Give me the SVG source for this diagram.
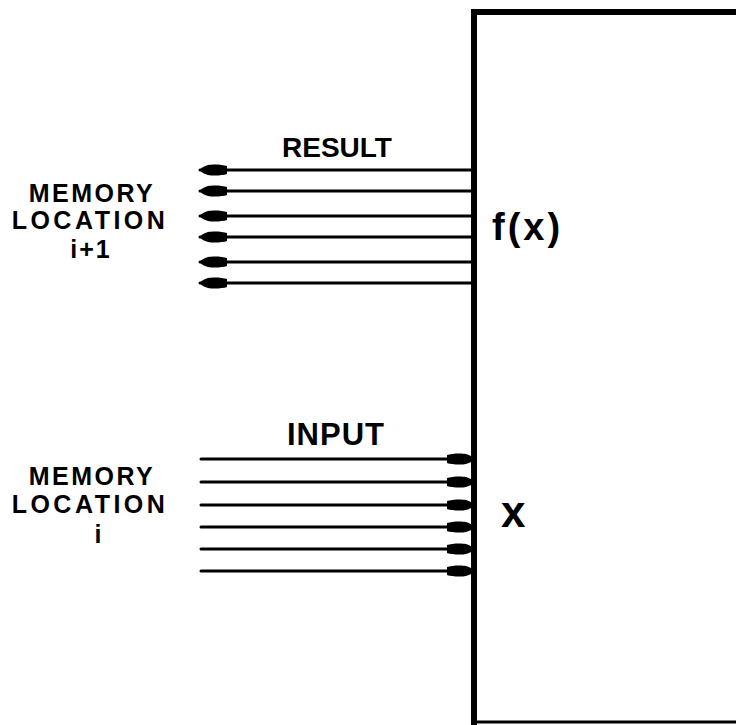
<svg xmlns="http://www.w3.org/2000/svg" width="736" height="725" viewBox="0 0 736 725">
<style>
.t{font-family:"Liberation Sans",Arial,sans-serif;font-weight:bold;fill:#000}
.w{stroke:#000;stroke-width:3;fill:none;stroke-linecap:round}
.m{font-size:25px;text-anchor:middle}
</style>
<defs>
<marker id="ah" viewBox="0 0 27 12" refX="27" refY="6" markerWidth="27" markerHeight="12" markerUnits="userSpaceOnUse" orient="auto-start-reverse">
<path d="M0,2 C4,0.5 14,0 19,1 C23,2 26,4 27,6 C26,8 23,10 19,11 C14,12 4,11.5 0,10 Z" fill="#000"/>
</marker>
</defs>
<rect width="736" height="725" fill="#fff"/>
<g id="box">
<path d="M474,725 V12 H736" stroke="#000" stroke-width="6" fill="none"/>
<line x1="474" y1="722" x2="736" y2="722" stroke="#000" stroke-width="3"/>
<text class="t" x="492" y="240" font-size="38" letter-spacing="3">f(x)</text>
<text class="t" x="501" y="527" font-size="44">x</text>
</g>
<g id="result-label">
<text class="t" x="337" y="157" font-size="28" text-anchor="middle">RESULT</text>
</g>
<g id="input-label">
<text class="t" x="336" y="445" font-size="31" text-anchor="middle" letter-spacing="1">INPUT</text>
</g>
<g id="mem-i1">
<text class="t m"><tspan x="92" y="202" letter-spacing="2.5">MEMORY</tspan><tspan x="90" y="229" letter-spacing="3.5">LOCATION</tspan><tspan x="91" y="258" letter-spacing="2">i+1</tspan></text>
</g>
<g id="mem-i">
<text class="t m"><tspan x="92" y="485" letter-spacing="2.5">MEMORY</tspan><tspan x="90" y="513" letter-spacing="3.5">LOCATION</tspan><tspan x="98" y="543">i</tspan></text>
</g>
<g id="connectors">
<line class="w" x1="474" y1="170" x2="200" y2="170" marker-end="url(#ah)"/>
<line class="w" x1="474" y1="191" x2="200" y2="191" marker-end="url(#ah)"/>
<line class="w" x1="474" y1="216" x2="200" y2="216" marker-end="url(#ah)"/>
<line class="w" x1="474" y1="237" x2="200" y2="237" marker-end="url(#ah)"/>
<line class="w" x1="474" y1="262" x2="200" y2="262" marker-end="url(#ah)"/>
<line class="w" x1="474" y1="283" x2="200" y2="283" marker-end="url(#ah)"/>
<line class="w" x1="201" y1="459" x2="474" y2="459" marker-end="url(#ah)"/>
<line class="w" x1="201" y1="482" x2="474" y2="482" marker-end="url(#ah)"/>
<line class="w" x1="201" y1="505" x2="474" y2="505" marker-end="url(#ah)"/>
<line class="w" x1="201" y1="527" x2="474" y2="527" marker-end="url(#ah)"/>
<line class="w" x1="201" y1="549" x2="474" y2="549" marker-end="url(#ah)"/>
<line class="w" x1="201" y1="571" x2="474" y2="571" marker-end="url(#ah)"/>
</g>
</svg>
